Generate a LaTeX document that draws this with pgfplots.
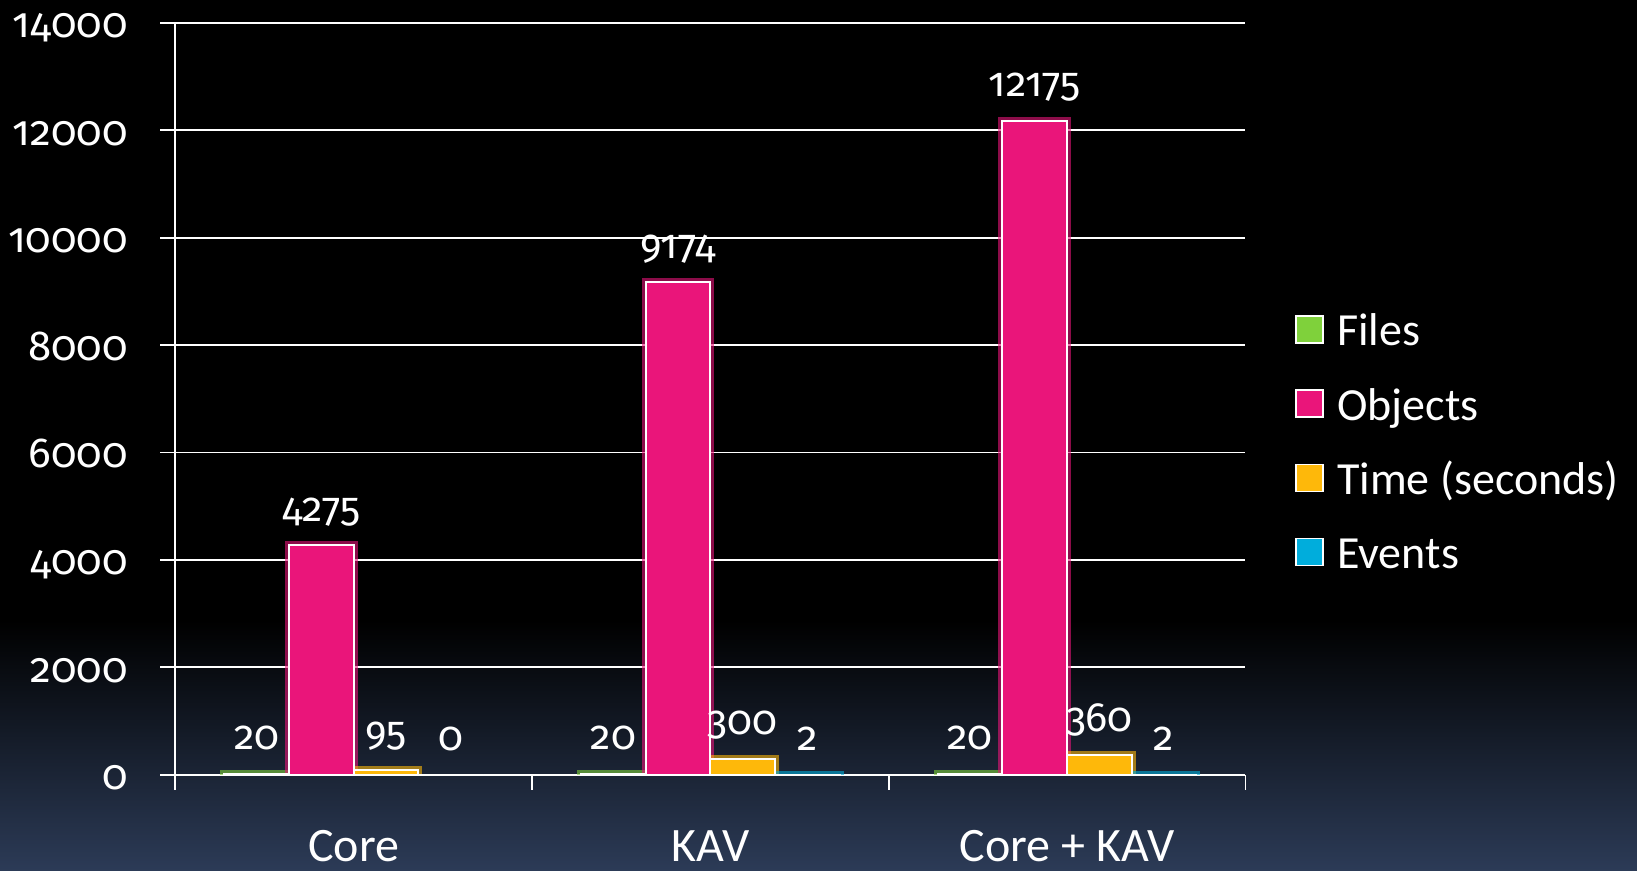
\documentclass[border=0pt]{standalone}
\usepackage{fontspec}
\setmainfont{Carlito}
\newfontfamily\numfont{Fira Sans}[Numbers=OldStyle]
\usepackage{pgfplots}
\pgfplotsset{compat=1.18}
\definecolor{cFiles}{HTML}{7FD13B}
\definecolor{cObj}{HTML}{EA157A}
\definecolor{cTime}{HTML}{FEB80A}
\definecolor{cEv}{HTML}{00ADDC}
\definecolor{bgbot}{HTML}{2C3B57}
\begin{document}
\begin{tikzpicture}
\fill[black] (-87.7pt,77.3pt) rectangle (730.8pt,387.35pt);
\shade[top color=black, bottom color=bgbot] (-87.7pt,-48.15pt) rectangle (730.8pt,77.4pt);
\begin{axis}[
  at={(0pt,0pt)}, anchor=south west,
  scale only axis, width=535pt, height=375.85pt,
  xmin=0, xmax=3, ymin=0, ymax=14000,
  axis x line*=bottom, axis y line*=left,
  axis line style={white, line width=0.9pt, -},
  ytick={0,2000,...,14000},
  ymajorgrids, grid style={white, line width=0.9pt},
  tick style={white, line width=0.9pt},
  tick align=outside, major tick length=7.5pt,
  xtick={0,1,2,3}, xticklabels={},
  extra x ticks={0.5,1.5,2.5},
  extra x tick labels={Core,KAV,Core + KAV},
  extra x tick style={major tick length=0pt, tick label style={text=white, font=\fontsize{24}{28}\selectfont, anchor=base, inner sep=0pt, yshift=-43.5pt}},
  yticklabel style={text=white, font=\numfont\fontsize{21}{25}\selectfont, anchor=base east, inner sep=0pt, xshift=-16.2pt, yshift=-7.5pt},
  /pgf/number format/assume math mode=true,
  /pgf/number format/1000 sep={},
  scaled y ticks=false,
  ybar=0pt, bar width=32.35pt,
  legend style={at={(1.046,0.437)}, anchor=west, draw=none, fill=none, text=white,
    font=\fontsize{23}{27}\selectfont, inner sep=0pt, row sep=16.1pt, column sep=6.8pt,
    nodes={inner sep=0pt, text height=16pt, text depth=5pt}},
  legend cell align=left,
  legend image code/.code={\draw[#1, draw=white, line width=0.8pt] (0pt,-4pt) rectangle (13.5pt,9.5pt);},
  every node near coord/.append style={text=white, font=\numfont\fontsize{20.5}{24}\selectfont, anchor=base, yshift=12pt},
]
% glow layers
\addplot[forget plot, bar shift=-48.5pt, draw=cFiles, draw opacity=0.6, line width=4pt, fill=none] coordinates {(0.5,20) (1.5,20) (2.5,20)};
\addplot[forget plot, bar shift=-16.2pt, draw=cObj, draw opacity=0.6, line width=4pt, fill=none] coordinates {(0.5,4275) (1.5,9174) (2.5,12175)};
\addplot[forget plot, bar shift=16.2pt, draw=cTime, draw opacity=0.6, line width=4pt, fill=none] coordinates {(0.5,95) (1.5,300) (2.5,360)};
\addplot[forget plot, bar shift=48.5pt, draw=cEv, draw opacity=0.6, line width=4pt, fill=none] coordinates {(1.5,2) (2.5,2)};
% main bars
\addplot[bar shift=-48.5pt, fill=cFiles, draw=white, line width=1pt, nodes near coords] coordinates {(0.5,20) (1.5,20) (2.5,20)};
\addplot[bar shift=-16.2pt, fill=cObj, draw=white, line width=1pt, nodes near coords] coordinates {(0.5,4275) (1.5,9174) (2.5,12175)};
\addplot[bar shift=16.2pt, fill=cTime, draw=white, line width=1pt, nodes near coords] coordinates {(0.5,95) (1.5,300) (2.5,360)};
\addplot[bar shift=48.5pt, fill=cEv, draw=white, line width=1pt, nodes near coords] coordinates {(0.5,0) (1.5,2) (2.5,2)};
\legend{Files,Objects,Time (seconds),Events}
\end{axis}
\pgfresetboundingbox
\path[use as bounding box] (-87.7pt,-48.15pt) rectangle (730.8pt,387.35pt);
\end{tikzpicture}
\end{document}
